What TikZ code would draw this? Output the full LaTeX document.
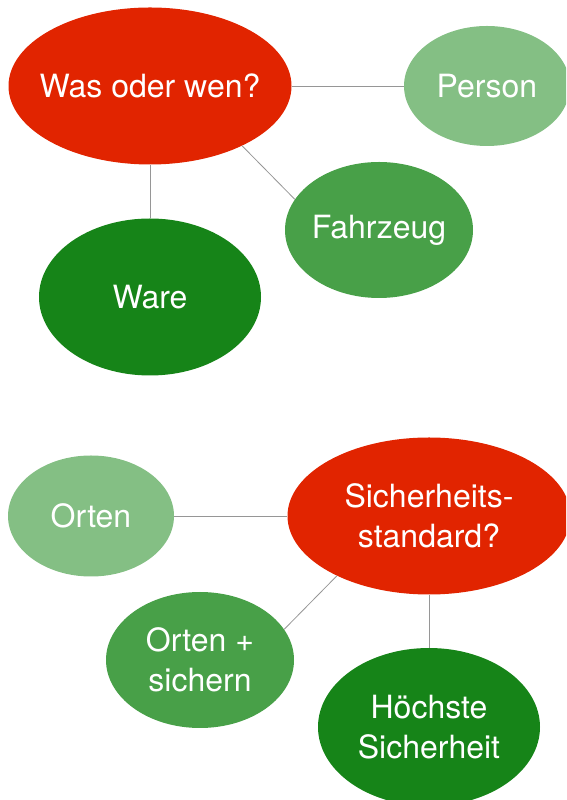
\documentclass[tikz,border=0pt]{standalone}
\usepackage{fontspec}
\setmainfont{TeX Gyre Heros}
\usepackage{tikz}
\usepackage{xcolor}
\usetikzlibrary{shapes.geometric,positioning}
\definecolor{frage}{RGB}{225,36,0}
\definecolor{hellgruen}{RGB}{132,191,132}
\definecolor{mittelgruen}{RGB}{72,160,72}
\definecolor{dunkelgruen}{RGB}{22,132,24}
\definecolor{linie}{RGB}{150,150,150}
% text without width, so that the ellipse keeps its size
\newcommand{\zeile}[1]{\makebox[0pt]{#1}}

\begin{document}
\begin{tikzpicture}[x=1pt,y=1pt,
    blase/.style={ellipse,inner sep=0pt,text=white,align=center,
        font=\fontsize{32}{40}\selectfont},
    verbindung/.style={draw=linie,line width=0.8pt}]
    \clip (0,0) rectangle (566,800);

    % Was oder wen?
    \node[blase,fill=frage,minimum width=283,minimum height=157] (was) at (150,714) {\zeile{Was oder wen?}};
    \node[blase,fill=hellgruen,minimum width=166,minimum height=120] (person) at (487,714) {\zeile{Person}};
    \node[blase,fill=mittelgruen,minimum width=188,minimum height=136] (fahrzeug) at (379,570) {\zeile{Fahrzeug}};
    \node[blase,fill=dunkelgruen,minimum width=222,minimum height=157] (ware) at (150,503) {\zeile{Ware}};
    \draw[verbindung] (was.east) -- (person.west);
    \draw[verbindung] (was.-33.7) -- (fahrzeug.160.6);
    \draw[verbindung] (was.south) -- (ware.north);

    % Sicherheitsstandard?
    \node[blase,fill=hellgruen,minimum width=166,minimum height=121] (orten) at (91,284) {\zeile{Orten}};
    \node[blase,fill=frage,minimum width=283,minimum height=157] (standard) at (429,284) {\zeile{Sicherheits-}\\\zeile{standard?}};
    \node[blase,fill=mittelgruen,minimum width=188,minimum height=136] (ortensichern) at (200,140) {\zeile{Orten +}\\\zeile{sichern}};
    \node[blase,fill=dunkelgruen,minimum width=222,minimum height=158] (hoechste) at (429,73) {\zeile{Höchste}\\\zeile{Sicherheit}};
    \draw[verbindung] (orten.east) -- (standard.west);
    \draw[verbindung] (standard.213.7) -- (ortensichern.20);
    \draw[verbindung] (standard.south) -- (hoechste.north);
\end{tikzpicture}
\end{document}
